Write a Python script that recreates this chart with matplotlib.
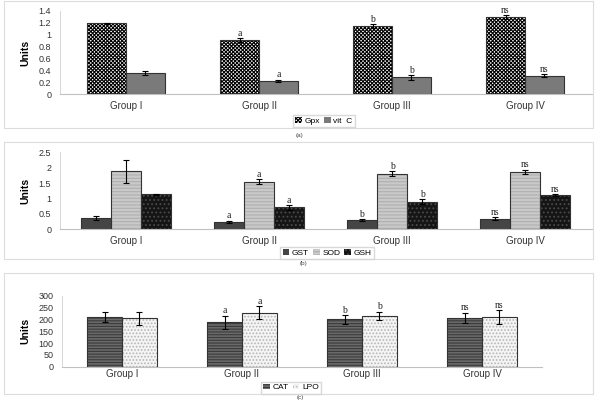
import matplotlib.pyplot as plt
import numpy as np
from matplotlib.patches import Rectangle

GROUPS = ["Group I", "Group II", "Group III", "Group IV"]

# panel (a)
GPX = [1.19, 0.91, 1.15, 1.30]
GPX_ERR = [0.01, 0.03, 0.03, 0.03]
VITC = [0.35, 0.22, 0.28, 0.31]
VITC_ERR = [0.03, 0.02, 0.04, 0.02]

# panel (b)
GST = [0.37, 0.25, 0.30, 0.35]
GST_ERR = [0.07, 0.03, 0.03, 0.04]
SOD = [1.88, 1.55, 1.80, 1.86]
SOD_ERR = [0.37, 0.07, 0.08, 0.07]
GSH = [1.13, 0.71, 0.90, 1.10]
GSH_ERR = [0.03, 0.08, 0.07, 0.03]

# panel (c)
CAT = [210, 187, 200, 207]
CAT_ERR = [22, 28, 18, 22]
LPO = [205, 228, 215, 210]
LPO_ERR = [28, 28, 18, 28]

MARKS = ["", "a", "b", "ns"]

SANS = "Liberation Sans"
SERIF = "Liberation Serif"
plt.rcParams["font.family"] = SANS
plt.rcParams["hatch.linewidth"] = 0.8


def draw_panel(ax, series, width, ylim, yticks, ticklabels, xpad=5):
    x = np.arange(len(GROUPS))
    n = len(series)
    handles = []
    for i, (label, values, errors, face, hatch, hatch_color) in enumerate(series):
        pos = x + (i - (n - 1) / 2) * width
        bars = ax.bar(pos, values, width, color=face, hatch=hatch,
                      edgecolor=hatch_color, linewidth=0, label=label, zorder=2)
        ax.bar(pos, values, width, fill=False, edgecolor="#333333",
               linewidth=0.8, zorder=3)
        ax.errorbar(pos, values, yerr=errors, fmt="none", ecolor="black",
                    elinewidth=0.8, capsize=2.5, capthick=0.8, zorder=4)
        for xi, v, e, m in zip(pos, values, errors, MARKS):
            if m:
                ax.text(xi, v + e + ylim[1] * 0.005, m, ha="center", va="bottom",
                        family=SERIF, fontsize=7, color="#222222", zorder=5)
        handles.append(bars)

    ax.set_xlim(-0.5, len(GROUPS) - 0.5)
    ax.set_ylim(*ylim)
    ax.set_yticks(yticks)
    ax.set_yticklabels(ticklabels, fontsize=6.5, color="#333333")
    ax.set_xticks(x)
    ax.set_xticklabels(GROUPS, fontsize=7, color="#333333")
    ax.tick_params(axis="y", length=0, pad=6)
    ax.tick_params(axis="x", length=0, pad=xpad)
    for side in ["top", "right"]:
        ax.spines[side].set_visible(False)
    ax.spines["left"].set_color("#d0d0d0")
    ax.spines["bottom"].set_color("#c0c0c0")
    ax.spines["left"].set_linewidth(0.6)
    ax.spines["bottom"].set_linewidth(0.8)
    ax.set_ylabel("Units", fontsize=7.5, fontweight="bold", labelpad=6)
    return handles


def add_legend(handles, cx, cy, ncol):
    fig.legend(handles=handles, loc="center", bbox_to_anchor=(cx, cy), ncol=ncol,
               fontsize=6, frameon=True, edgecolor="#d0d0d0", fancybox=False,
               handlelength=0.8, handleheight=0.7, handletextpad=0.3,
               columnspacing=0.5, borderpad=0.25)


fig = plt.figure(figsize=(6, 4), dpi=100)

# panel frames
for y0, y1 in [(1, 128), (142, 259), (273, 394)]:
    fig.patches.append(Rectangle((4 / 600, 1 - y1 / 400), 589 / 600, (y1 - y0) / 400,
                                 transform=fig.transFigure, fill=False,
                                 edgecolor="#dcdcdc", linewidth=0.8))

ax_a = fig.add_axes([59.5 / 600, 1 - 94 / 400, 532 / 600, 83 / 400])
h = draw_panel(ax_a, [
    ("Gpx", GPX, GPX_ERR, "white", "xxxxxxxxx", "black"),
    ("vit  C", VITC, VITC_ERR, "#7a7a7a", None, "#7a7a7a"),
], 0.293, (0, 1.4), np.arange(0, 1.41, 0.2), ["0", "0.2", "0.4", "0.6", "0.8", "1", "1.2", "1.4"])
add_legend(h, 0.54, 1 - 121 / 400, 2)
fig.text(0.5, 1 - 135 / 400, "(a)", ha="center", va="center", fontsize=4.5, color="#444444")

ax_b = fig.add_axes([59.5 / 600, 1 - 229.3 / 400, 532 / 600, 77 / 400])
h = draw_panel(ax_b, [
    ("GST", GST, GST_ERR, "#454545", None, "#454545"),
    ("SOD", SOD, SOD_ERR, "#c9c9c9", "-----", "#b0b0b0"),
    ("GSH", GSH, GSH_ERR, "#151515", "....", "#4a4a4a"),
], 0.226, (0, 2.5), np.arange(0, 2.51, 0.5), ["0", "0.5", "1", "1.5", "2", "2.5"])
add_legend(h, 0.545, 1 - 253 / 400, 3)
fig.text(0.505, 1 - 264 / 400, "(b)", ha="center", va="center", fontsize=4.5, color="#444444")

ax_c = fig.add_axes([62 / 600, 1 - 366.7 / 400, 480 / 600, 71 / 400])
h = draw_panel(ax_c, [
    ("CAT", CAT, CAT_ERR, "#6a6a6a", "------", "#3a3a3a"),
    ("LPO", LPO, LPO_ERR, "#f4f4f4", ".....", "#b5b5b5"),
], 0.29, (0, 300), np.arange(0, 301, 50), ["0", "50", "100", "150", "200", "250", "300"],
    xpad=2)
add_legend(h, 0.485, 1 - 387.5 / 400, 2)
fig.text(0.5, 1 - 397.5 / 400, "(c)", ha="center", va="center", fontsize=4.5, color="#444444")

fig.savefig("out.png", dpi=100)
